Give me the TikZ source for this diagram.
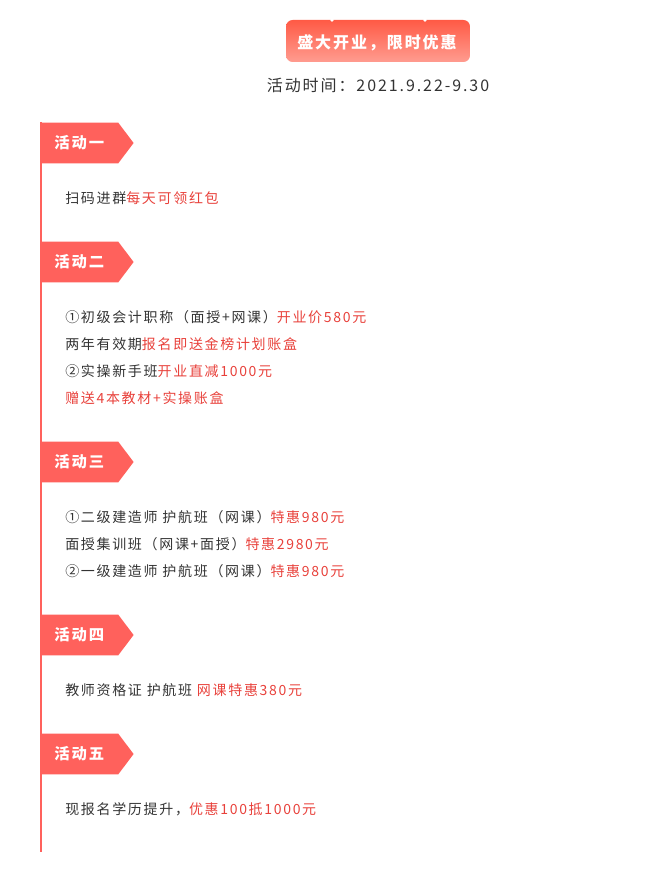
\documentclass[tikz,border=0pt]{standalone}
\usepackage{fontspec}
\setmainfont{Noto Sans CJK SC}[LetterSpace=12]
\usetikzlibrary{shapes.symbols}
\definecolor{tagred}{HTML}{FF615C}
\definecolor{hotred}{HTML}{E8413B}
\definecolor{ink}{HTML}{333333}
\definecolor{bantop}{HTML}{FF5A45}
\definecolor{banbot}{HTML}{FF9C90}
\newcommand{\hot}[1]{\textcolor{hotred}{#1}}
\begin{document}
\begin{tikzpicture}[x=0.75pt,y=-0.75pt,
  tag/.style={signal,signal to=east,signal pointer angle=106,fill=tagred,
    minimum width=70pt,minimum height=30.5pt,inner sep=0pt,anchor=west,
    text=white,font=\fontsize{11.5}{12}\selectfont\bfseries},
  line/.style={anchor=west,inner sep=0pt,text=ink,font=\fontsize{10.5}{12}\selectfont}]
  \useasboundingbox (0,0) rectangle (663,870);

  % banner
  \shade[top color=bantop,bottom color=banbot,rounded corners=5pt]
    (286,20) rectangle (470,62);
  \fill[white] (332,20) circle (1.8) (425,20) circle (1.8);
  \node[text=white,font=\fontsize{12}{12}\selectfont\bfseries] (banner) at (377,43) {盛大开业，限时优惠};
  \node[text=ink,font=\fontsize{12}{12}\selectfont] (date) at (378,85) {活动时间：2021.9.22-9.30};

  % timeline
  \coordinate (top) at (41,122);
  \coordinate (bottom) at (41,852);
  \draw[tagred,line width=1.5pt] (top) -- (bottom);

  \node[tag] (t1) at (40,143) {活动一};
  \node[tag] (t2) at (40,262) {活动二};
  \node[tag] (t3) at (40,462) {活动三};
  \node[tag] (t4) at (40,635) {活动四};
  \node[tag] (t5) at (40,754) {活动五};

  \node[line] (l1) at (65,198) {扫码进群\hot{每天可领红包}};

  \node[line] (l2a) at (65,317) {①初级会计职称（面授+网课）\hot{开业价580元}};
  \node[line] (l2b) at (65,344) {两年有效期\hot{报名即送金榜计划账盒}};
  \node[line] (l2c) at (65,371) {②实操新手班\hot{开业直减1000元}};
  \node[line] (l2d) at (65,398) {\hot{赠送4本教材+实操账盒}};

  \node[line] (l3a) at (65,517) {①二级建造师 护航班（网课）\hot{特惠980元}};
  \node[line] (l3b) at (65,544) {面授集训班（网课+面授）\hot{特惠2980元}};
  \node[line] (l3c) at (65,571) {②一级建造师 护航班（网课）\hot{特惠980元}};

  \node[line] (l4) at (65,690) {教师资格证 护航班 \hot{网课特惠380元}};

  \node[line] (l5) at (65,809) {现报名学历提升，\hot{优惠100抵1000元}};
\end{tikzpicture}
\end{document}
